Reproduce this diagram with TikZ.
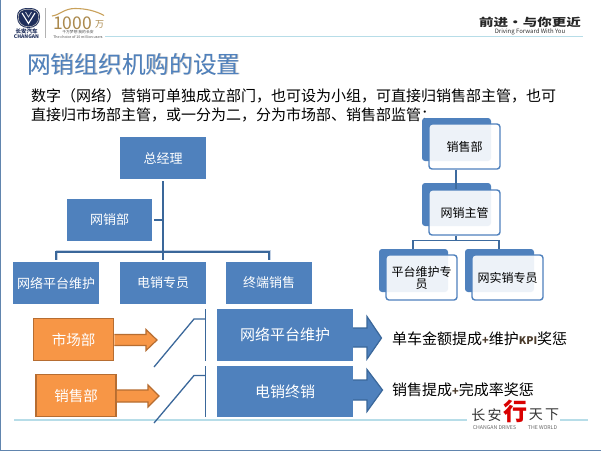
\documentclass[tikz,border=0pt]{standalone}
\usepackage{graphicx}
\usepackage{fontspec}
\setmainfont{Noto Sans CJK SC}
\usetikzlibrary{calc,shapes.arrows}
\definecolor{accent}{HTML}{4F81BD}
\definecolor{linkc}{HTML}{3A679A}
\definecolor{shade}{HTML}{C3D1E4}
\definecolor{orangef}{HTML}{F79646}
\definecolor{oranged}{HTML}{B66D31}
\definecolor{rulec}{HTML}{B7DDE8}
\definecolor{gold}{HTML}{C9A15A}
\definecolor{navy}{HTML}{1F2F5C}
\definecolor{markc}{HTML}{4A3A2A}
\newcommand{\fs}[1]{\fontsize{#1pt}{#1pt}\selectfont}
\tikzset{
  bluebox/.style={fill=accent,text=white,inner sep=0pt,align=center},
  frontbox/.style={draw=accent,line width=1.4pt,fill=white,fill opacity=.9,text opacity=1,rounded corners=3pt,inner sep=0pt,minimum width=71pt,minimum height=45pt,align=center,text=black,font=\fs{12}},
  orangebox/.style={fill=orangef,draw=oranged,line width=1.5pt,text=white,inner sep=0pt,minimum width=80pt,minimum height=42pt,font=\fs{14.5}},
  conn/.style={draw=linkc,line width=2pt},
  connr/.style={draw=linkc!85!accent,line width=1.7pt},
  connshade/.style={draw=shade,line width=1.6pt},
  thinlink/.style={draw=linkc,line width=1.3pt},
  orangearrow/.style={fill=orangef,draw=oranged,line width=1.2pt,line join=miter},
  bluearrow/.style={fill=accent,draw=linkc,line width=1.2pt,line join=miter},
  rulel/.style={draw=rulec,line width=1.4pt},
  plain/.style={inner sep=0pt,text=black,anchor=west},
}
\begin{document}
\begin{tikzpicture}[x=1pt,y=-1pt]
\useasboundingbox (0,0) rectangle (601,451);
\fill[white] (0,0) rectangle (601,451);
% frame
\coordinate (fa) at (0.5,0); \coordinate (fb) at (0.5,450.3); \coordinate (fc) at (601,450.3);
\draw[linkc!80,line width=1pt] (fa) -- (fb) -- (fc);
% rules
\coordinate (r1a) at (105,36.5); \coordinate (r1b) at (583,36.5);
\coordinate (r2a) at (14,420); \coordinate (r2b) at (467,420);
\coordinate (r3a) at (560,420); \coordinate (r3b) at (588,420);
\draw[rulel] (r1a) -- (r1b);
\draw[rulel] (r2a) -- (r2b);
\draw[rulel] (r3a) -- (r3b);
% logo left
\fill[navy] (28.5,8) .. controls (37,8) and (40,11) .. (40,17) .. controls (40,24) and (35,28) .. (28.5,28) .. controls (22,28) and (17,24) .. (17,17) .. controls (17,11) and (20,8) .. (28.5,8) -- cycle;
\draw[gray!50,line width=.6pt] (28.5,9.2) .. controls (36,9.2) and (38.8,12) .. (38.8,17) .. controls (38.8,23) and (34.5,26.8) .. (28.5,26.8) .. controls (22.5,26.8) and (18.2,23) .. (18.2,17) .. controls (18.2,12) and (21,9.2) .. (28.5,9.2) -- cycle;
\draw[white,line width=1.1pt] (22,13) -- (28.5,23.5) -- (35,13);
\draw[white!80!navy,line width=.7pt] (25.5,12) -- (28.5,17) -- (31.5,12);
\node[inner sep=0pt,text=navy,font=\fs{5.5}\bfseries] (lg1) at (26.5,31) {长安汽车};
\node[inner sep=0pt,text=navy,font=\fs{5}\bfseries] (lg2) at (26.5,36.2) {CHANGAN};
\coordinate (sa) at (45.5,8); \coordinate (sb) at (45.5,38);
\draw[gray!60,line width=.6pt] (sa) -- (sb);
\draw[gold,line width=1.1pt] (52,16) .. controls (60,15) and (64,8.5) .. (75,8.5) .. controls (86,8.5) and (96,11) .. (104,15.5);
\node[inner sep=0pt,text=gold!85!black,font=\fs{17.5}] (k) at (72.5,23) {1000};
\node[inner sep=0pt,text=gold!85!black,font=\fs{9}] (w) at (99.5,24) {万};
\node[inner sep=0pt,text=black!70,font=\fs{3.8}] (k2) at (78,32.5) {千万梦想\ 我的长安};
\node[inner sep=0pt,text=black!70,font=\fs{3.6}] (k3) at (78,36.6) {The choice of 10 million users};
% logo right
\node[inner sep=0pt,font=\fs{11}\bfseries,text=black!85] (sl) at (530,22) {\scalebox{1.32}[1]{前进·与你更近}};
\node[inner sep=0pt,font=\fs{6},text=black!80] (sl2) at (530,32.3) {Driving Forward With You};
% title
\node[plain,text=black!25,font=\fs{23.7}] (tt2) at (27.7,64.3) {网销组织机购的设置};
\node[plain,text=accent,font=\fs{23.7}] (tt) at (27,64) {网销组织机购的设置};
% body
\node[plain,font=\fs{15}] (b1) at (31,95.5) {数字（网络）营销可单独成立部门，也可设为小组，可直接归销售部主管，也可};
\node[plain,font=\fs{15}] (b2) at (31,115) {直接归市场部主管，或一分为二，分为市场部、销售部监管：};
% org chart left
\node[bluebox,minimum width=86pt,minimum height=42pt,font=\fs{13}] (gm) at (163,158) {总经理};
\node[bluebox,minimum width=85pt,minimum height=42pt,font=\fs{13}] (wx) at (109.5,220) {网销部};
\node[bluebox,minimum width=86pt,minimum height=42pt,font=\fs{13}] (c1) at (56,283) {网络平台维护};
\node[bluebox,minimum width=86pt,minimum height=42pt,font=\fs{13}] (c2) at (163,283) {电销专员};
\node[bluebox,minimum width=86pt,minimum height=42pt,font=\fs{13}] (c3) at (269,283) {终端销售};
\coordinate (bus) at (163,252);
\draw[connshade] ($(c1.north)+(1,-2)$) |- ($(bus)+(0,-1.4)$) -| ($(c3.north)+(1.2,-2)$);
\draw[conn] ($(gm.south)+(0,2)$) -- ($(c2.north)+(0,-2)$);
\draw[conn] (wx.east) ++(2,0) -- (gm.south |- wx.east);
\draw[conn] ($(c1.north)+(0,-2)$) |- (bus) -| ($(c3.north)+(0,-2)$);
% org chart right
\fill[accent,rounded corners=3pt] (422,118) rectangle (491,161);
\fill[accent,rounded corners=3pt] (422,183) rectangle (491,226);
\fill[accent,rounded corners=3pt] (379,249) rectangle (448,292);
\fill[accent,rounded corners=3pt] (465,249) rectangle (534,292);
\node[frontbox] (s1) at (464.5,146.5) {销售部};
\node[frontbox] (s2) at (464.5,212.5) {网销主管};
\node[frontbox] (s3) at (421.5,277.5) {平台维护专\\员};
\node[frontbox] (s4) at (507.5,277.5) {网实销专员};
\coordinate (sj) at (456,240.5);
\draw[connr] (s1.south -| sj) -- (s2.north -| sj);
\draw[connr] (s2.south -| sj) -- (sj);
\draw[connr] (413,249) |- (sj) -| (499,249);
% orange row
\node[orangebox] (m1) at (73.5,339.5) {市场部};
\node[orangebox] (m2) at (76,395.5) {销售部};
\draw[orangearrow] (m1.east |- 0,334.5) -- (146,334.5) -- (146,329.5) -- (157,340) -- (146,350.5) -- (146,345.5) -- (m1.east |- 0,345.5);
\draw[orangearrow] (m2.east |- 0,390) -- (148,390) -- (148,385) -- (159,396) -- (148,407) -- (148,402) -- (m2.east |- 0,402);
% slanted
\coordinate (a1) at (154,367); \coordinate (a2) at (194,319); \coordinate (a3) at (205.5,319);
\coordinate (a4) at (205.5,309); \coordinate (a5) at (205.5,361);
\coordinate (b1c) at (154,423); \coordinate (b2c) at (194,375.5); \coordinate (b3c) at (205.5,375.5);
\coordinate (b4) at (205.5,366); \coordinate (b5) at (205.5,417);
\draw[thinlink] (a1) -- (a2) -- (a3);
\draw[thinlink] (a4) -- (a5);
\draw[thinlink] (b1c) -- (b2c) -- (b3c);
\draw[thinlink] (b4) -- (b5);
% big boxes
\node[bluebox,minimum width=136pt,minimum height=52pt,font=\fs{15}] (n1) at (285,335) {网络平台维护};
\node[bluebox,minimum width=136pt,minimum height=51pt,font=\fs{15}] (n2) at (285,391.5) {电销终销};
\draw[bluearrow] (n1.east |- 0,328) -- (367,328) -- (367,316.5) -- (381.5,338) -- (367,359) -- (367,347) -- (n1.east |- 0,347);
\draw[bluearrow] (n2.east |- 0,380) -- (367,380) -- (367,369.5) -- (382.5,390) -- (367,411.5) -- (367,400) -- (n2.east |- 0,400);
\node[plain,font=\fs{15}] (t1) at (392,339) {单车金额提成{\color{markc}\bfseries\fs{11}+}维护{\color{markc}\bfseries\fs{10.5}KPI}奖惩};
\node[plain,font=\fs{15}] (t2) at (392,390) {销售提成{\color{markc}\bfseries\fs{11}+}完成率奖惩};
% bottom-right logo
\fill[white] (467,402) rectangle (560,435);
\node[inner sep=0pt,font=\fs{14},text=black!80] (l1) at (486.5,415) {长\,安};
\node[inner sep=0pt,font=\fs{24}\bfseries,text=red!85!black] (l2) at (515,411.5) {行};
\node[inner sep=0pt,font=\fs{14},text=black!80] (l3) at (544,415) {天\,下};
\node[inner sep=0pt,font=\fs{5.2},text=black!60] (l4) at (494.5,428) {CHANGAN DRIVES};
\node[inner sep=0pt,font=\fs{5.2},text=black!60] (l5) at (542.5,428) {THE WORLD};
\end{tikzpicture}
\end{document}
